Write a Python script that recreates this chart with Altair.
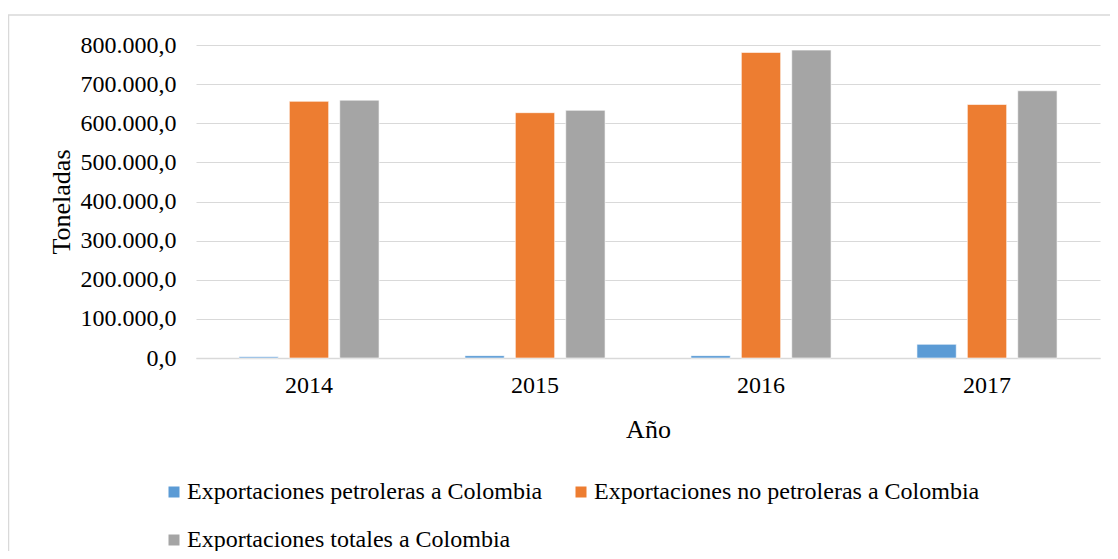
import altair as alt
import pandas as pd

years = ["2014", "2015", "2016", "2017"]
series = [
    "Exportaciones petroleras a Colombia",
    "Exportaciones no petroleras a Colombia",
    "Exportaciones totales a Colombia",
]
petroleras = [3000, 6000, 6000, 35000]
no_petroleras = [656000, 627000, 781000, 648000]
totales = [659000, 633000, 787000, 683000]
colors = ["#5b9bd5", "#ed7d31", "#a5a5a5"]

# legend is laid out column by column, so order the legend entries accordingly
legend_order = [series[0], series[2], series[1]]
legend_colors = [colors[0], colors[2], colors[1]]

rows = []
for i, y in enumerate(years):
    for s, vals in zip(series, [petroleras, no_petroleras, totales]):
        rows.append({"Año": y, "Serie": s, "Toneladas": vals[i]})
df = pd.DataFrame(rows)

FONT = "Liberation Serif"

bars = alt.Chart(df).mark_bar(stroke="white", strokeWidth=0.6).encode(
    x=alt.X("Año:N", sort=years,
            scale=alt.Scale(paddingInner=0.38, paddingOuter=0.19),
            axis=alt.Axis(title="Año", labelAngle=0, ticks=False, domainColor="#d9d9d9",
                          domainWidth=1.5, labelPadding=15, titlePadding=19, grid=False,
                          labelFont=FONT, titleFont=FONT, labelFontSize=24, titleFontSize=26,
                          labelColor="#000000", titleColor="#000000", titleFontWeight="normal")),
    xOffset=alt.XOffset("Serie:N", sort=series,
                        scale=alt.Scale(paddingInner=0.22, paddingOuter=0)),
    y=alt.Y("Toneladas:Q", scale=alt.Scale(domain=[0, 800000]),
            axis=alt.Axis(title="Toneladas", format=",.1f",
                          values=[0, 100000, 200000, 300000, 400000, 500000, 600000, 700000, 800000],
                          ticks=False, domain=False, gridColor="#d9d9d9", gridWidth=1,
                          labelOverlap=False, labelFlush=False,
                          labelPadding=20, titlePadding=6,
                          labelFont=FONT, titleFont=FONT, labelFontSize=24, titleFontSize=26,
                          labelColor="#000000", titleColor="#000000", titleFontWeight="normal")),
    color=alt.Color("Serie:N",
                    scale=alt.Scale(domain=legend_order, range=legend_colors),
                    legend=alt.Legend(title=None, orient="none", legendX=-34, legendY=435,
                                      columns=2, columnPadding=26, rowPadding=24,
                                      symbolType="square", symbolSize=121, symbolStrokeWidth=0,
                                      labelOffset=1, labelFont=FONT, labelFontSize=24,
                                      labelColor="#000000", labelLimit=0)),
)

frame = alt.Chart(pd.DataFrame({"k": [0]})).mark_rect(
    fill=None, stroke="#d9d9d9", strokeWidth=1.5
).encode(
    x=alt.value(-187.5), x2=alt.value(960),
    y=alt.value(-30), y2=alt.value(560),
)

chart = alt.layer(frame, bars).properties(
    width=904, height=313,
    autosize=alt.AutoSizeParams(type="none"),
    padding={"left": 188, "top": 37, "right": 10, "bottom": 193},
).configure(
    locale=alt.Locale(number=alt.NumberLocale(decimal=",", thousands=".", grouping=[3], currency=["$", ""])),
    font=FONT,
).configure_view(stroke=None)

chart.save("out.html", embed_options={"renderer": "svg", "actions": False})
